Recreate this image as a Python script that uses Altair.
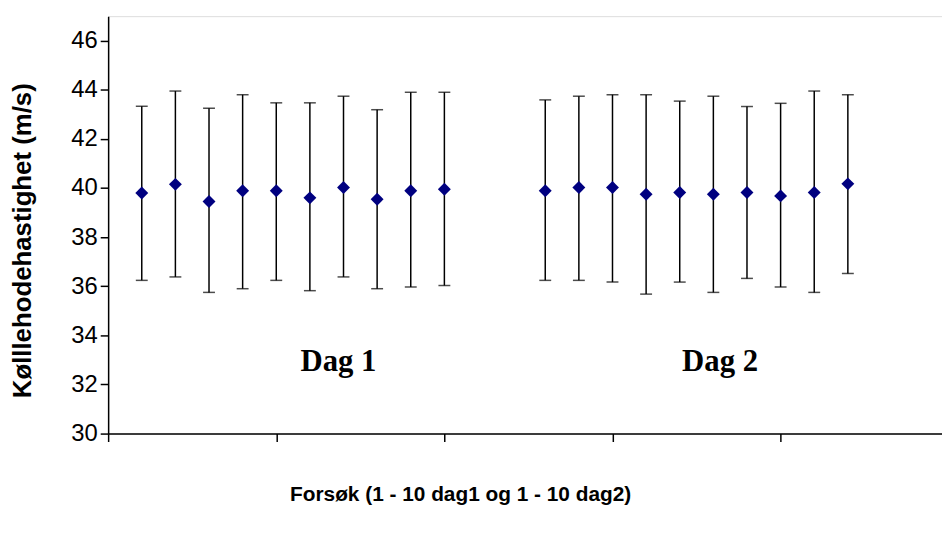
import altair as alt
import pandas as pd

# Trial positions on the category axis (day 1: 1-10, day 2: 13-22)
trial_pos = [1, 2, 3, 4, 5, 6, 7, 8, 9, 10,
             13, 14, 15, 16, 17, 18, 19, 20, 21, 22]
day = ["Dag 1"] * 10 + ["Dag 2"] * 10
means = [39.80, 40.15, 39.45, 39.89, 39.89, 39.60, 40.02, 39.54, 39.89, 39.95,
         39.89, 40.02, 40.02, 39.75, 39.82, 39.75, 39.82, 39.68, 39.82, 40.17]
upper = [43.33, 43.95, 43.25, 43.80, 43.47, 43.47, 43.74, 43.19, 43.90, 43.90,
         43.59, 43.74, 43.80, 43.80, 43.54, 43.74, 43.32, 43.45, 43.95, 43.80]
lower = [36.24, 36.38, 35.75, 35.90, 36.24, 35.82, 36.38, 35.90, 35.97, 36.03,
         36.24, 36.24, 36.17, 35.68, 36.17, 35.75, 36.32, 35.97, 35.75, 36.52]

y_ticks = [30, 32, 34, 36, 38, 40, 42, 44, 46]
x_ticks = [0, 5, 10, 15, 20]

ann_text = ["Dag 1", "Dag 2"]
ann_x = [6.85, 18.2]
ann_y = [32.55, 32.55]

df = pd.DataFrame({"pos": trial_pos, "day": day, "mean": means,
                   "upper": upper, "lower": lower})
ann = pd.DataFrame({"text": ann_text, "x": ann_x, "y": ann_y})

xscale = alt.Scale(domain=[0, 24.8], nice=False, zero=False)
yscale = alt.Scale(domain=[30, 47], nice=False, zero=False)

x_axis = alt.Axis(values=x_ticks, labels=False, grid=False, tickSize=8,
                  tickColor="black", tickWidth=1.5, domainColor="black",
                  domainWidth=1.5,
                  title="Forsøk (1 - 10 dag1 og 1 - 10 dag2)",
                  titleFont="Liberation Sans", titleFontSize=21,
                  titleFontWeight="bold", titleColor="black",
                  titleX=355, titleY=61, titleBaseline="middle",
                  titleAlign="center", titleAnchor="start")
y_axis = alt.Axis(values=y_ticks, grid=False, tickSize=8, tickColor="black",
                  tickWidth=1.5, domainColor="black", domainWidth=1.5,
                  labelFont="Liberation Sans", labelFontSize=24,
                  labelColor="black", labelPadding=3,
                  title="Kølllehodehastighet (m/s)",
                  titleFont="Liberation Sans", titleFontSize=26,
                  titleFontWeight="bold", titleColor="black",
                  titleX=-86, titleY=226, titleBaseline="middle",
                  titleAlign="center", titleAngle=270, titleAnchor="start")

base = alt.Chart(df)

bars = base.mark_rule(color="black", strokeWidth=1.5).encode(
    x=alt.X("pos:Q", scale=xscale, axis=x_axis),
    y=alt.Y("lower:Q", scale=yscale, axis=y_axis),
    y2="upper:Q",
)
cap_hi = base.mark_tick(color="black", orient="horizontal", size=12,
                        thickness=1.5).encode(
    x=alt.X("pos:Q", scale=xscale), y=alt.Y("upper:Q", scale=yscale))
cap_lo = base.mark_tick(color="black", orient="horizontal", size=12,
                        thickness=1.5).encode(
    x=alt.X("pos:Q", scale=xscale), y=alt.Y("lower:Q", scale=yscale))
pts = base.mark_point(shape="diamond", filled=True, color="#000080",
                      size=170, opacity=1).encode(
    x=alt.X("pos:Q", scale=xscale), y=alt.Y("mean:Q", scale=yscale))
labels = alt.Chart(ann).mark_text(font="Liberation Serif", fontSize=31,
                                  fontWeight="bold", color="black",
                                  baseline="alphabetic", align="center").encode(
    x=alt.X("x:Q", scale=xscale), y=alt.Y("y:Q", scale=yscale), text="text:N")

chart = alt.layer(bars, cap_hi, cap_lo, pts, labels).properties(
    width=841, height=421,
    padding={"left": 101, "top": 6, "right": 0, "bottom": 93},
    autosize="none",
).configure_view(stroke=None).configure(background="white")

chart.save("out.html", embed_options={"renderer": "svg", "actions": False})
